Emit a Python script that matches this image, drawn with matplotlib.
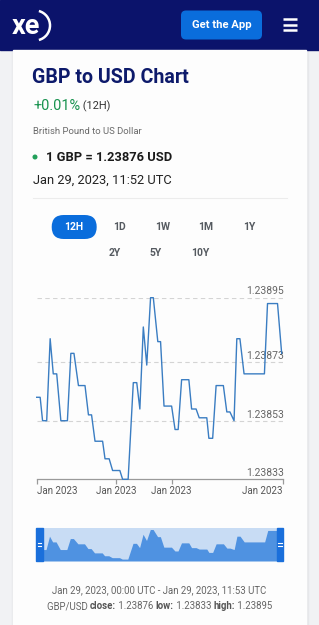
import matplotlib
matplotlib.use("Agg")
import matplotlib.pyplot as plt
from matplotlib.patches import FancyBboxPatch, Rectangle, Arc, Circle
from matplotlib.transforms import ScaledTranslation

plt.rcParams['font.family'] = ['Roboto', 'DejaVu Sans']

# ---------------- data ----------------
minutes = [0, 10, 17, 29, 39, 48, 58, 70, 89, 99,
           108, 121, 140, 150, 159, 169, 191, 198, 210, 220,
           241, 249, 265, 280, 290, 299, 309, 319, 330, 338,
           351, 359, 369, 391, 401, 410, 420, 441, 449, 462,
           471, 493, 499, 510, 520, 541, 551, 560, 572, 580,
           589, 601, 660, 669, 698, 710]
rates = [1.23861, 1.23861, 1.23853, 1.23853, 1.23881, 1.23869, 1.23869, 1.23853, 1.23853, 1.23876,
         1.23876, 1.23865, 1.23865, 1.23855, 1.23855, 1.23846, 1.23846, 1.23840, 1.23840, 1.23836,
         1.23836, 1.23833, 1.23833, 1.23866, 1.23866, 1.23857, 1.23885, 1.23872, 1.23895, 1.23895,
         1.23880, 1.23880, 1.23858, 1.23858, 1.23850, 1.23850, 1.23867, 1.23867, 1.23857, 1.23857,
         1.23854, 1.23854, 1.23847, 1.23847, 1.23865, 1.23865, 1.23856, 1.23856, 1.23853, 1.23881,
         1.23881, 1.23869, 1.23869, 1.23893, 1.23893, 1.23876]
total_minutes = 713
y_ticks = [1.23833, 1.23853, 1.23873, 1.23895]
y_tick_labels = ["1.23833", "1.23853", "1.23873", "1.23895"]
x_tick_pos = [0, 230, 391, 713]
x_tick_labels = ["Jan 2023", "Jan 2023", "Jan 2023", "Jan 2023"]
range_buttons_row1 = ["12H", "1D", "1W", "1M", "1Y"]
range_buttons_row2 = ["2Y", "5Y", "10Y"]

# ---------------- figure ----------------
W, H = 319, 625
fig = plt.figure(figsize=(W / 100, H / 100), dpi=100)
bg = fig.add_axes([0, 0, 1, 1])
bg.set_xlim(0, W)
bg.set_ylim(H, 0)
bg.axis('off')
fig.patch.set_facecolor('#f1f2f4')

PX = 0.72  # px -> pt

# header
bg.add_patch(Rectangle((0, 0), W, 50, color='#0b136b', zorder=1))
bg.text(26, 26, "xe", color='white', fontsize=27 * PX, fontweight='bold',
        ha='center', va='center', zorder=3)
bg.add_patch(Arc((35, 25.5), 30, 30, theta1=-75, theta2=75, color='white', lw=1.8, zorder=3))
bg.add_patch(FancyBboxPatch((181, 10.5), 81, 29, boxstyle="round,pad=0,rounding_size=5",
                            fc='#0a6ddc', ec='none', zorder=2))
bg.text(221.5, 25, "Get the App", color='white', fontsize=11.3 * PX, fontweight='bold',
        ha='center', va='center', zorder=3)
for yy in (19, 24.5, 30):
    bg.plot([282.5, 296.5], [yy, yy], color='white', lw=1.8, solid_capstyle='butt', zorder=3)

# card
bg.add_patch(Rectangle((11.5, 50), 296, H, color='#e6e7ea', zorder=0.5))
bg.add_patch(Rectangle((13, 50), 293, H, color='#fdfdfd', zorder=1))

renderer = fig.canvas.get_renderer()


def rich(x, y, parts, ha='left'):
    arts = []
    widths = []
    for txt, kw in parts:
        t = bg.text(0, y, txt, va='center', ha='left', zorder=4, **kw)
        w = t.get_window_extent(renderer).width
        arts.append(t)
        widths.append(w)
    total = sum(widths)
    cx = x if ha == 'left' else x - total / 2
    for t, w in zip(arts, widths):
        t.set_x(cx)
        cx += w


bg.text(32.5, 77.5, "GBP to USD Chart", color='#0d1a6b', fontsize=19.6 * PX,
        fontweight='bold', va='center', zorder=4)
rich(33, 106.5, [("+0.01%", dict(color='#17924e', fontsize=14.5 * PX)),
                 (" (12H)", dict(color='#333333', fontsize=11 * PX))])
bg.text(33, 131.5, "British Pound to US Dollar", color='#6a6a6a', fontsize=9.5 * PX,
        va='center', zorder=4)
bg.add_patch(Circle((35, 157), 1.8, color='#22a05a', zorder=4))
bg.text(46, 157.5, "1 GBP = 1.23876 USD", color='#1a1a1a', fontsize=12.9 * PX,
        fontweight='bold', va='center', zorder=4)
bg.text(33, 180.5, "Jan 29, 2023, 11:52 UTC", color='#222222', fontsize=12.9 * PX,
        va='center', zorder=4)
bg.plot([33, 287], [197.5, 197.5], color='#ececec', lw=0.8, zorder=3)

# range buttons
row1_x = [74, 119.3, 162.7, 205.7, 249]
row2_x = [115, 156, 200]
bg.add_patch(FancyBboxPatch((51.7, 215), 45, 24, boxstyle="round,pad=0,rounding_size=12",
                            fc='#0a6ddc', ec='none', zorder=3))
for lab, xx in zip(range_buttons_row1, row1_x):
    bg.text(xx, 227.5, lab, color='white' if lab == "12H" else '#555a60',
            fontsize=10.4 * PX, fontweight='bold', ha='center', va='center', zorder=4)
for lab, xx in zip(range_buttons_row2, row2_x):
    bg.text(xx, 252.5, lab, color='#555a60', fontsize=10.4 * PX, fontweight='bold',
            ha='center', va='center', zorder=4)

# ---------------- main chart ----------------
x0, x1 = 36.7, 282.7
ytop, ybot = 297.7, 479.3
ax = fig.add_axes([x0 / W, 1 - ybot / H, (x1 - x0) / W, (ybot - ytop) / H])
ax.set_facecolor('none')
ax.set_xlim(0, total_minutes)
ax.set_ylim(min(y_ticks), max(y_ticks))
for s in ('top', 'right', 'left'):
    ax.spines[s].set_visible(False)
ax.spines['bottom'].set_color('#9a9a9a')
ax.spines['bottom'].set_linewidth(0.9)
ax.set_yticks([])
for v in y_ticks[1:]:
    ax.axhline(v, color='#d4d4d4', lw=0.8, dashes=(4, 3), zorder=1)
off = ScaledTranslation(1.6 / 100, 1.2 / 100, fig.dpi_scale_trans)
for v, lab in zip(y_ticks, y_tick_labels):
    ax.text(1.0, v, lab, transform=ax.get_yaxis_transform() + off, ha='right', va='bottom',
            color='#666666', fontsize=10.4 * PX)
ax.plot(minutes, rates, color='#3a7dc2', lw=1.0, solid_joinstyle='round', clip_on=False, zorder=3)
ax.set_xticks(x_tick_pos)
ax.set_xticklabels(x_tick_labels)
ax.tick_params(axis='x', length=5 * PX, width=0.9, color='#9a9a9a', pad=1.5,
               labelsize=9.8 * PX, labelcolor='#555555')
tl = ax.get_xticklabels()
tl[0].set_horizontalalignment('left')
tl[-1].set_horizontalalignment('right')

# ---------------- navigator ----------------
ny0, ny1 = 528.3, 561
nav = fig.add_axes([36 / W, 1 - ny1 / H, (283 - 36) / W, (ny1 - ny0) / H])
nav.set_xlim(0, total_minutes)
lo = min(rates) - 0.00004
hi = max(rates) + 0.000025
nav.set_ylim(lo, hi)
nav.set_facecolor('#c8dcf4')
nav.fill_between(minutes, rates, lo, color='#4f92e1', lw=0)
nav.set_xticks([])
nav.set_yticks([])
for s in nav.spines.values():
    s.set_visible(False)
for hx in (36, 276.5):
    nav.add_patch(Rectangle((hx, ny0), 6.5, ny1 - ny0, transform=bg.transData,
                            color='#1a6fdb', clip_on=False, zorder=5))
    for dy in (-1.2, 1.2):
        nav.plot([hx + 1.5, hx + 5], [544.5 + dy, 544.5 + dy], transform=bg.transData,
                 color='white', lw=0.8, clip_on=False, zorder=6)

# ---------------- footer text ----------------
bg.text(159.5, 590, "Jan 29, 2023, 00:00 UTC - Jan 29, 2023, 11:53 UTC", color='#666666',
        fontsize=9.7 * PX, ha='center', va='center', zorder=4)
reg = dict(color='#666666', fontsize=9.7 * PX)
bold = dict(color='#555555', fontsize=9.7 * PX, fontweight='bold')
rich(159.5, 606, [("GBP/USD ", reg), ("close:", bold), (" 1.23876 ", reg), ("low:", bold),
                  (" 1.23833 ", reg), ("high:", bold), (" 1.23895", reg)], ha='center')

fig.savefig("out.png", dpi=100, facecolor=fig.get_facecolor())
